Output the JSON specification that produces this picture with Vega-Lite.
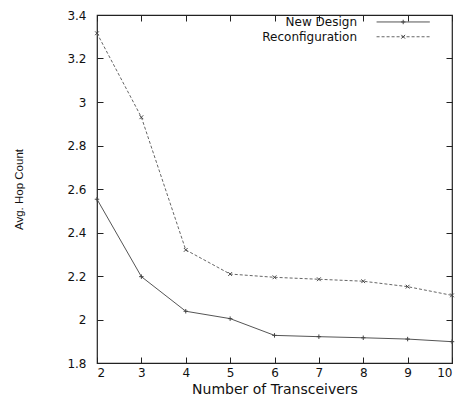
{
  "$schema": "https://vega.github.io/schema/vega-lite/v6.json",
  "width": 355,
  "height": 348,
  "autosize": "none",
  "padding": {"left": 97, "top": 15, "right": 14, "bottom": 32},
  "background": "white",
  "config": {
    "view": {"stroke": "#222", "strokeWidth": 1.2},
    "font": "DejaVu Sans",
    "axis": {
      "grid": false,
      "domain": false,
      "tickColor": "#222",
      "tickSize": -6,
      "tickWidth": 1,
      "labelFont": "DejaVu Sans",
      "labelFontSize": 12,
      "labelColor": "#111",
      "titleColor": "#111",
      "titleFontWeight": "normal"
    }
  },
  "data": {
    "values": [
      {"n": 2, "hops": 2.553, "series": "New Design"},
      {"n": 3, "hops": 2.197, "series": "New Design"},
      {"n": 4, "hops": 2.038, "series": "New Design"},
      {"n": 5, "hops": 2.004, "series": "New Design"},
      {"n": 6, "hops": 1.927, "series": "New Design"},
      {"n": 7, "hops": 1.921, "series": "New Design"},
      {"n": 8, "hops": 1.916, "series": "New Design"},
      {"n": 9, "hops": 1.910, "series": "New Design"},
      {"n": 10, "hops": 1.898, "series": "New Design"},
      {"n": 2, "hops": 3.316, "series": "Reconfiguration"},
      {"n": 3, "hops": 2.930, "series": "Reconfiguration"},
      {"n": 4, "hops": 2.320, "series": "Reconfiguration"},
      {"n": 5, "hops": 2.209, "series": "Reconfiguration"},
      {"n": 6, "hops": 2.194, "series": "Reconfiguration"},
      {"n": 7, "hops": 2.185, "series": "Reconfiguration"},
      {"n": 8, "hops": 2.176, "series": "Reconfiguration"},
      {"n": 9, "hops": 2.151, "series": "Reconfiguration"},
      {"n": 10, "hops": 2.111, "series": "Reconfiguration"}
    ]
  },
  "resolve": {"axis": {"x": "independent", "y": "independent"}},
  "layer": [
    {
      "transform": [{"filter": "datum.series === 'New Design'"}],
      "encoding": {
        "x": {
          "field": "n", "type": "quantitative",
          "scale": {"domain": [2, 10], "nice": false, "zero": false},
          "axis": {
            "orient": "bottom",
            "values": [2, 3, 4, 5, 6, 7, 8, 9, 10],
            "labelPadding": 10,
            "title": "Number of Transceivers",
            "titleFont": "DejaVu Sans",
            "titleFontSize": 14,
            "titleX": 177.5,
            "titleY": 30,
            "titleBaseline": "alphabetic"
          }
        },
        "y": {
          "field": "hops", "type": "quantitative",
          "scale": {"domain": [1.8, 3.4], "nice": false, "zero": false},
          "axis": {
            "orient": "left",
            "values": [1.8, 2, 2.2, 2.4, 2.6, 2.8, 3, 3.2, 3.4],
            "format": "~g",
            "labelPadding": 17,
            "title": "Avg. Hop Count",
            "titleFont": "Liberation Sans",
            "titleFontSize": 11.5,
            "titleAngle": -90,
            "titleX": -78,
            "titleY": 174,
            "titleAlign": "center",
            "titleBaseline": "middle"
          }
        }
      },
      "layer": [
        {"mark": {"type": "line", "color": "#555", "strokeWidth": 1}},
        {"mark": {"type": "point", "shape": "M-1,0L1,0M0,-1L0,1", "filled": false, "stroke": "#444", "strokeWidth": 1, "size": 20, "opacity": 1}}
      ]
    },
    {
      "transform": [{"filter": "datum.series === 'Reconfiguration'"}],
      "encoding": {
        "x": {
          "field": "n", "type": "quantitative",
          "axis": {"orient": "top", "values": [2, 3, 4, 5, 6, 7, 8, 9, 10], "labels": false, "title": null}
        },
        "y": {
          "field": "hops", "type": "quantitative",
          "axis": {"orient": "right", "values": [1.8, 2, 2.2, 2.4, 2.6, 2.8, 3, 3.2, 3.4], "labels": false, "title": null}
        }
      },
      "layer": [
        {"mark": {"type": "line", "color": "#666", "strokeWidth": 1, "strokeDash": [3, 2]}},
        {"mark": {"type": "point", "shape": "M-1,-1L1,1M-1,1L1,-1", "filled": false, "stroke": "#444", "strokeWidth": 1, "size": 14, "opacity": 1}}
      ]
    },
    {
      "data": {"values": [{"label": "New Design"}]},
      "encoding": {
        "y": {"datum": 3.368, "type": "quantitative", "axis": null}
      },
      "layer": [
        {
          "mark": {"type": "text", "align": "right", "baseline": "middle", "font": "DejaVu Sans", "fontSize": 12, "color": "#111"},
          "encoding": {
            "x": {"datum": 7.86, "type": "quantitative", "axis": null},
            "text": {"field": "label"}
          }
        },
        {
          "mark": {"type": "rule", "color": "#555", "strokeWidth": 1},
          "encoding": {
            "x": {"datum": 8.3, "type": "quantitative", "axis": null},
            "x2": {"datum": 9.5}
          }
        },
        {
          "mark": {"type": "point", "shape": "M-1,0L1,0M0,-1L0,1", "filled": false, "stroke": "#444", "strokeWidth": 1, "size": 20, "opacity": 1},
          "encoding": {
            "x": {"datum": 8.9, "type": "quantitative", "axis": null}
          }
        }
      ]
    },
    {
      "data": {"values": [{"label": "Reconfiguration"}]},
      "encoding": {
        "y": {"datum": 3.300, "type": "quantitative", "axis": null}
      },
      "layer": [
        {
          "mark": {"type": "text", "align": "right", "baseline": "middle", "font": "DejaVu Sans", "fontSize": 12, "color": "#111"},
          "encoding": {
            "x": {"datum": 7.86, "type": "quantitative", "axis": null},
            "text": {"field": "label"}
          }
        },
        {
          "mark": {"type": "rule", "color": "#666", "strokeWidth": 1, "strokeDash": [3, 2]},
          "encoding": {
            "x": {"datum": 8.3, "type": "quantitative", "axis": null},
            "x2": {"datum": 9.5}
          }
        },
        {
          "mark": {"type": "point", "shape": "M-1,-1L1,1M-1,1L1,-1", "filled": false, "stroke": "#444", "strokeWidth": 1, "size": 14, "opacity": 1},
          "encoding": {
            "x": {"datum": 8.9, "type": "quantitative", "axis": null}
          }
        }
      ]
    }
  ]
}
